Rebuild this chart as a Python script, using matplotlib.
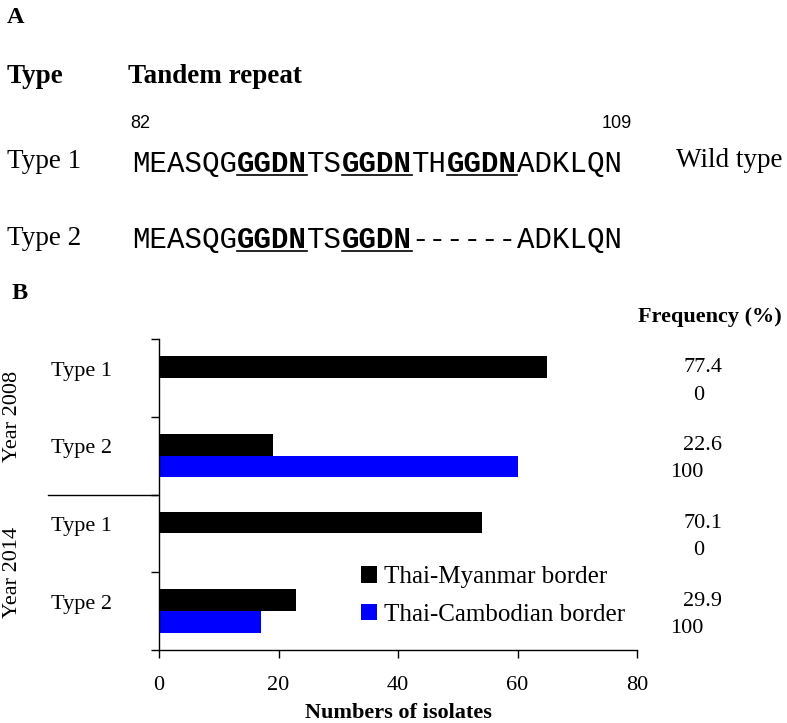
import numpy as np
import matplotlib
matplotlib.use('Agg')
import matplotlib.pyplot as plt
from matplotlib.transforms import blended_transform_factory

plt.rcParams['font.family'] = 'Liberation Serif'

# Panel B data
categories = ['Type 1', 'Type 2', 'Type 1', 'Type 2']
years = ['Year 2008', 'Year 2014']
thai_myanmar = [65, 19, 54, 23]
thai_cambodian = [0, 60, 0, 17]
freq_myanmar = ['77.4', '22.6', '70.1', '29.9']
freq_cambodian = ['0', '100', '0', '100']
series_labels = ['Thai-Myanmar border', 'Thai-Cambodian border']

# Panel A data: (text, is repeat motif)
seq_type1 = [('MEASQG', False), ('GGDN', True), ('TS', False), ('GGDN', True),
             ('TH', False), ('GGDN', True), ('ADKLQN', False)]
seq_type2 = [('MEASQG', False), ('GGDN', True), ('TS', False), ('GGDN', True),
             ('------', False), ('ADKLQN', False)]
seq_start, seq_end = '82', '109'

W, H = 787, 723
fig = plt.figure(figsize=(W / 100, H / 100), dpi=100)


def fx(x):
    return x / W


def fy(y):
    return 1 - y / H


# ---------------- Panel A ----------------
fig.text(fx(7), fy(23), 'A', fontsize=17.5, fontweight='bold', va='baseline')
fig.text(fx(7), fy(83), 'Type', fontsize=19.5, fontweight='bold', va='baseline')
fig.text(fx(128), fy(83), 'Tandem repeat', fontsize=19.5, fontweight='bold', va='baseline')
fig.text(fx(130), fy(128), seq_start, fontsize=13, family='Liberation Sans', va='baseline')
fig.text(fx(602), fy(128), seq_end, fontsize=13, family='Liberation Sans', va='baseline')

seq_fs = 21
char_w = 0.6 * seq_fs * 100 / 72  # px per character in monospace font


def draw_sequence(segments, x0, base):
    i = 0
    for text, motif in segments:
        x = x0 + i * char_w
        fig.text(fx(x), fy(base), text, fontsize=seq_fs, family='Liberation Mono',
                 fontweight='bold' if motif else 'normal', va='baseline')
        if motif:
            fig.add_artist(plt.Line2D([fx(x), fx(x + len(text) * char_w)],
                                      [fy(base + 2.5), fy(base + 2.5)],
                                      color='black', lw=1.2))
        i += len(text)


fig.text(fx(7), fy(168), 'Type 1', fontsize=19.5, va='baseline')
draw_sequence(seq_type1, 131.7, 172)
fig.text(fx(676), fy(167), 'Wild type', fontsize=19.5, va='baseline')

fig.text(fx(7), fy(245), 'Type 2', fontsize=19.5, va='baseline')
draw_sequence(seq_type2, 131.7, 248)

# ---------------- Panel B ----------------
fig.text(fx(12), fy(299), 'B', fontsize=17.5, fontweight='bold', va='baseline')

ax = fig.add_axes([fx(159), fy(650), (637 - 159) / W, (650 - 339) / H])
y = np.arange(len(categories))
bh = 0.28
ax.barh(y - bh / 2, thai_myanmar, height=bh, color='black', label=series_labels[0])
ax.barh(y + bh / 2, thai_cambodian, height=bh, color='#0000ff', label=series_labels[1])

ax.set_xlim(0, 80)
ax.set_ylim(len(categories) - 0.5, -0.5)
ax.set_xticks([0, 20, 40, 60, 80])
ax.set_yticks(np.arange(len(categories) + 1) - 0.5)
ax.set_yticklabels([])
ax.set_yticks(y - 0.12, minor=True)
ax.set_yticklabels(categories, minor=True)
ax.tick_params(axis='y', which='major', length=6, width=1, direction='out')
ax.tick_params(axis='y', which='minor', length=0, pad=34, labelsize=16)
ax.tick_params(axis='x', length=6, width=1, direction='out', pad=13, labelsize=16)
for s in ['top', 'right']:
    ax.spines[s].set_visible(False)
for s in ['left', 'bottom']:
    ax.spines[s].set_linewidth(1)

ax.set_xlabel('Numbers of isolates', fontsize=16, fontweight='bold', va='top')
ax.xaxis.set_label_coords(0.5, -0.172)

# year group labels and separator
trans = blended_transform_factory(ax.transAxes, ax.transData)
for k, yr in enumerate(years):
    ax.text(-0.307, 2 * k + 0.5, yr, rotation=90, fontsize=16, ha='center', va='center',
            transform=trans, clip_on=False)
ax.plot([-0.232, -0.004], [1.5, 1.5], color='black', lw=1, transform=trans, clip_on=False)

# frequency column
ax.text(1.303, -0.72, 'Frequency (%)', fontsize=16, fontweight='bold', ha='right',
        va='baseline', transform=trans)
for i in range(len(categories)):
    ax.text(1.178, i - 0.07, freq_myanmar[i], fontsize=16, ha='right', va='baseline',
            transform=trans)
    ax.text(1.140, i + 0.28, freq_cambodian[i], fontsize=16, ha='right', va='baseline',
            transform=trans)

ax.legend(loc='upper left', bbox_to_anchor=(fx(361), fy(566)), bbox_transform=fig.transFigure,
          frameon=False, fontsize=18, handlelength=0.64, handleheight=0.64,
          handletextpad=0.3, labelspacing=0.62, borderpad=0, borderaxespad=0)

fig.savefig('out.png', dpi=100)
